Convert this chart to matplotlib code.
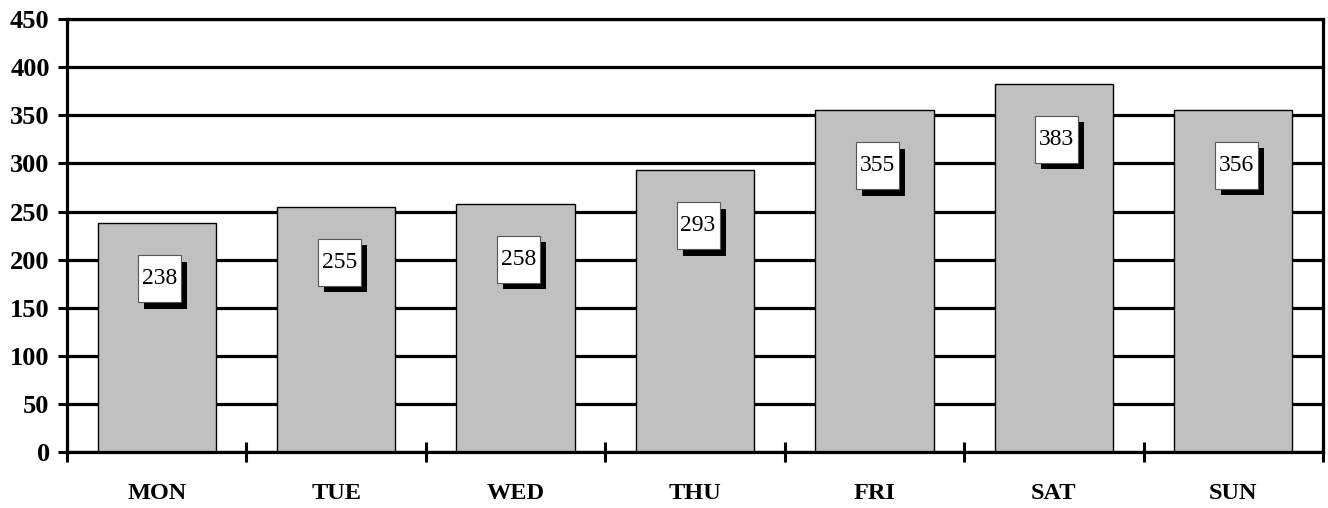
#!/usr/bin/env python3
import matplotlib

matplotlib.use("Agg")
import matplotlib.pyplot as plt
import matplotlib.transforms as mtransforms
from matplotlib.patches import Rectangle
import numpy as np

days = ["MON", "TUE", "WED", "THU", "FRI", "SAT", "SUN"]
counts = [238, 255, 258, 293, 355, 383, 356]
yticks = [0, 50, 100, 150, 200, 250, 300, 350, 400, 450]

plt.rcParams["font.family"] = ["Liberation Serif", "DejaVu Serif"]

fig = plt.figure(figsize=(13.28, 5.08), dpi=100)
ax = fig.add_axes([67 / 1328, (508 - 452.3) / 508, (1323 - 67) / 1328, (452.3 - 19) / 508])

x = np.arange(len(days))
ax.bar(x, counts, width=0.66, color="#c0c0c0", edgecolor="black", linewidth=1.0, zorder=2)

ax.set_xlim(-0.5, len(days) - 0.5)
ax.set_ylim(0, 450)
ax.set_yticks(yticks)
ax.set_yticklabels([str(v) for v in yticks], fontweight="bold", fontsize=19)
ax.set_xticks(x)
ax.set_xticklabels(days, fontweight="bold", fontsize=17.5)
ax.set_xticks(np.arange(len(days) + 1) - 0.5, minor=True)

ax.tick_params(axis="x", which="major", length=0, pad=22)
ax.tick_params(axis="x", which="minor", length=14, width=2.2, direction="inout")
ax.tick_params(axis="y", which="major", length=6.5, width=2.2, pad=6)

ax.set_axisbelow(True)
ax.yaxis.grid(True, color="black", linewidth=2.3)
for side in ["left", "bottom", "right", "top"]:
    ax.spines[side].set_linewidth(2.3)

# value boxes with drop shadow, sized in inches relative to the bar top
bw, bh = 0.43, 0.47
for xi, v in zip(x, counts):
    trans = fig.dpi_scale_trans + mtransforms.ScaledTranslation(xi, v, ax.transData)
    cx, cy = 0.03, -0.555
    ax.add_patch(Rectangle((cx - bw / 2 + 0.06, cy - bh / 2 - 0.065), bw, bh,
                           transform=trans, facecolor="black", edgecolor="none", zorder=3))
    ax.add_patch(Rectangle((cx - bw / 2, cy - bh / 2), bw, bh, transform=trans,
                           facecolor="white", edgecolor="#555555", linewidth=0.8, zorder=4))
    ax.text(cx, cy, str(v), transform=trans, ha="center", va="center",
            fontsize=17, zorder=5)

fig.savefig("out.png", dpi=100)
